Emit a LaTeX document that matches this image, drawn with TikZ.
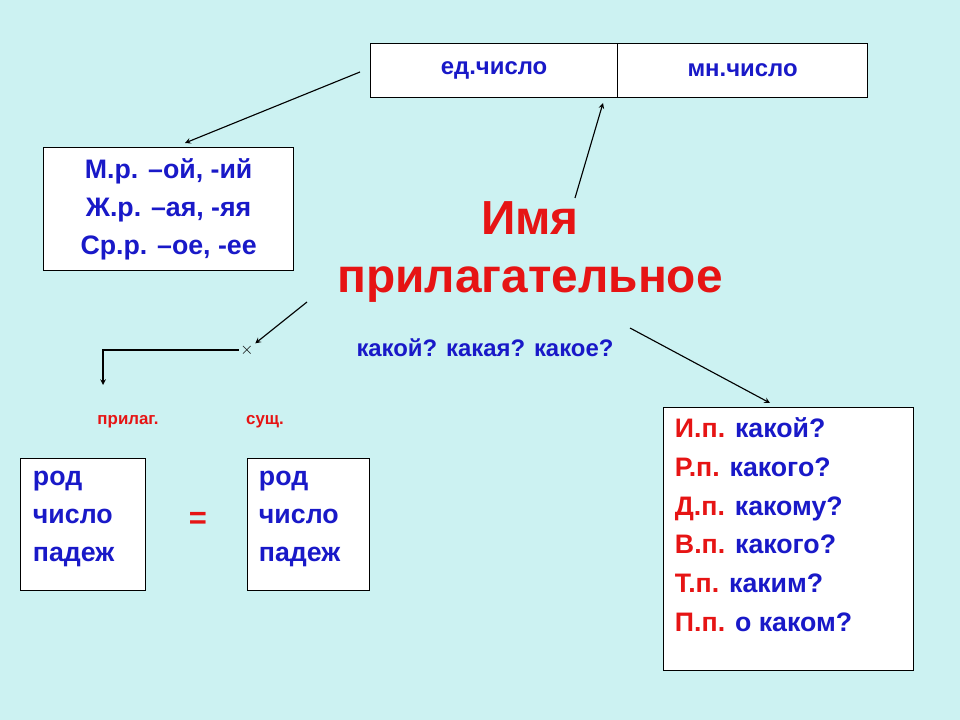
\documentclass[tikz,border=0pt]{standalone}
\usepackage{fontspec}
\setmainfont{Liberation Sans}
\usepackage{xcolor}
\usetikzlibrary{positioning}
\definecolor{bgcyan}{RGB}{204,242,242}
\definecolor{txtblue}{RGB}{25,25,200}
\definecolor{txtred}{RGB}{230,20,20}

\begin{document}
\begin{tikzpicture}[
    x=0.025cm, y=-0.025cm,
    box/.style={rectangle, draw, thick, fill=white, inner sep=0pt},
    arrow/.style={->, thick, >=stealth}
]
\fill[bgcyan] (0,0) rectangle (960,720);
\useasboundingbox (0,0) rectangle (960,720);

% top
\node[box, minimum width=6.175cm, minimum height=1.35cm, anchor=north west] (sg) at (370,43) {};
\node[box, minimum width=6.25cm, minimum height=1.35cm, anchor=north west] (pl) at (617,43) {};
\node[font=\bfseries\fontsize{17}{20}\selectfont, text=txtblue] at (sg) {ед.число};
\node[font=\bfseries\fontsize{17}{20}\selectfont, text=txtblue] at (pl) {мн.число};

% genders
\node[box, minimum width=6.25cm, minimum height=3.075cm, anchor=north west] (gen) at (43,147) {};
\node[font=\bfseries\fontsize{19}{27}\selectfont, text=txtblue, align=center] at (gen) {М.р. –ой, -ий\\Ж.р. –ая, -яя\\Ср.р. –ое, -ее};

% title
\node[font=\bfseries\fontsize{34}{40}\selectfont, text=txtred] (imya) at (530,218) {Имя};
\node[font=\bfseries\fontsize{34}{40}\selectfont, text=txtred] (pril) at (530,285) {прилагательное};
\node[font=\bfseries\fontsize{17}{20}\selectfont, text=txtblue] (q) at (485,348) {какой? какая? какое?};

% agreement
\node[font=\bfseries\large, inner sep=1pt] (cross) at (247,350) {$\times$};
\coordinate (corner) at (103,350);
\coordinate (down) at (103,385);
\node[font=\bfseries\fontsize{12}{14}\selectfont, text=txtred] (adj) at (128,422) {прилаг.};
\node[font=\bfseries\fontsize{12}{14}\selectfont, text=txtred] (noun) at (265,422) {сущ.};
\node[box, minimum width=3.125cm, minimum height=3.3cm, anchor=north west] (lbox) at (20,458) {};
\node[box, minimum width=3.05cm, minimum height=3.3cm, anchor=north west] (rbox) at (247,458) {};
\node[font=\bfseries\fontsize{19}{27}\selectfont, text=txtblue, align=left, anchor=north west] at (28,466) {род\\число\\падеж};
\node[font=\bfseries\fontsize{19}{27}\selectfont, text=txtblue, align=left, anchor=north west] at (254,466) {род\\число\\падеж};
\node[font=\bfseries\fontsize{22}{26}\selectfont, text=txtred] (eq) at (198,520) {=};

% cases
\node[box, minimum width=6.25cm, minimum height=6.575cm, anchor=north west] (cases) at (663,407) {};
\node[font=\bfseries\fontsize{19}{27.5}\selectfont, align=left, anchor=north west] at (670,413)
  {\textcolor{txtred}{И.п.} \textcolor{txtblue}{какой?}\\
   \textcolor{txtred}{Р.п.} \textcolor{txtblue}{какого?}\\
   \textcolor{txtred}{Д.п.} \textcolor{txtblue}{какому?}\\
   \textcolor{txtred}{В.п.} \textcolor{txtblue}{какого?}\\
   \textcolor{txtred}{Т.п.} \textcolor{txtblue}{каким?}\\
   \textcolor{txtred}{П.п.} \textcolor{txtblue}{о каком?}};

% connectors
\coordinate (sgout) at (360,72);
\coordinate (genin) at (185,143);
\coordinate (tout) at (575,198);
\coordinate (plin) at (603,103);
\coordinate (pout) at (630,328);
\coordinate (casesin) at (770,403);
\coordinate (xout) at (307,302);
\draw[arrow] (sgout) -- (genin);
\draw[arrow] (tout) -- (plin);
\draw[arrow] (pout) -- (casesin);
\draw[arrow] (xout) -- (cross);
\draw[arrow] (cross.west) -- (corner) -- (down);
\end{tikzpicture}
\end{document}
